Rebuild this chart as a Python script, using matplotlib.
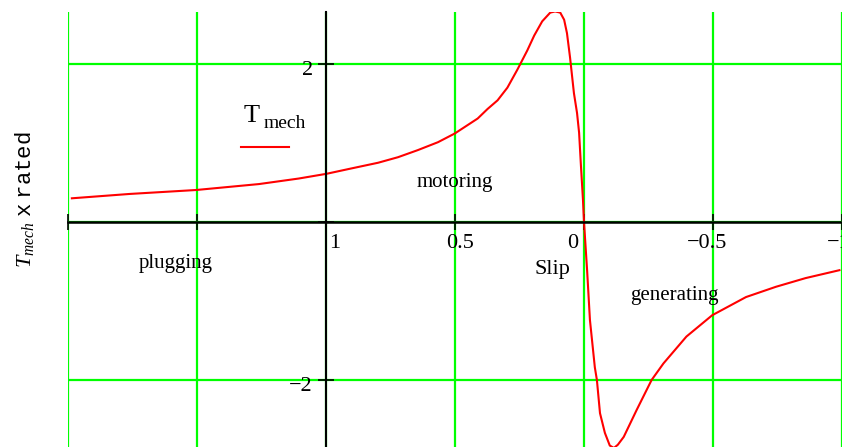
import matplotlib
matplotlib.use("Agg")
import matplotlib.pyplot as plt
from matplotlib.lines import Line2D

# torque (per unit of rated) against slip
slip = [1.985, 1.761, 1.503, 1.260, 1.106, 0.998, 0.913, 0.798, 0.721, 0.644,
        0.566, 0.501, 0.412, 0.374, 0.335, 0.297, 0.258, 0.220, 0.193, 0.162,
        0.131, 0.112, 0.092, 0.077, 0.066, 0.054, 0.039, 0.027, 0.019, 0.012,
        0.004, 0.0, -0.012, -0.023, -0.042, -0.050, -0.062, -0.081, -0.100,
        -0.116, -0.131, -0.154, -0.204, -0.262, -0.308, -0.397, -0.497,
        -0.628, -0.744, -0.859, -0.990]
torque = [0.30, 0.355, 0.405, 0.48, 0.55, 0.61, 0.67, 0.75, 0.82, 0.91,
          1.01, 1.12, 1.31, 1.43, 1.54, 1.70, 1.93, 2.17, 2.36, 2.54,
          2.65, 2.665, 2.65, 2.56, 2.39, 2.08, 1.63, 1.38, 1.13, 0.72,
          0.28, 0.0, -0.61, -1.24, -1.84, -2.0, -2.42, -2.67, -2.83,
          -2.86, -2.82, -2.72, -2.38, -2.0, -1.79, -1.45, -1.18,
          -0.95, -0.82, -0.71, -0.61]

x_ticks = [2, 1.5, 1, 0.5, 0, -0.5, -1]
x_labels = {1: "1", 0.5: "0.5", 0: "0", -0.5: "\u22120.5"}
x_label_dx = {1: 9, 0.5: 5, 0: -11, -0.5: -6}
y_ticks = [2, 0, -2]
y_labels = {2: "2", -2: "\u22122"}

regions = ["plugging", "motoring", "generating"]

plt.rcParams["mathtext.fontset"] = "custom"
plt.rcParams["mathtext.rm"] = "Liberation Mono"
plt.rcParams["mathtext.it"] = "Liberation Serif:italic"

W, H = 842, 447
serif = "Liberation Serif"


def px(x, y):
    # pixel position -> figure fraction
    return x / W, 1 - y / H


fig = plt.figure(figsize=(W / 100, H / 100), dpi=100)
ax = fig.add_axes([68 / W, 0, 1 - 68 / W, 1 - 12 / H])

ax.plot(slip, torque, color="#ff0000", lw=1.5, zorder=3)
ax.set_xlim(2.0, -0.972)
ax.set_ylim(-2.848, 2.658)

ax.set_xticks(x_ticks)
ax.set_yticks(y_ticks)
ax.set_xticklabels([])
ax.set_yticklabels([])
ax.grid(True, color="#00ff00", lw=1.6)

for side in ["top", "right"]:
    ax.spines[side].set_visible(False)
ax.spines["left"].set_position(("data", 1))
ax.spines["bottom"].set_position(("data", 0))
ax.spines["left"].set_linewidth(1.5)
ax.spines["bottom"].set_linewidth(1.8)
ax.spines["left"].set_zorder(4)
ax.spines["bottom"].set_zorder(4)
ax.tick_params(direction="inout", length=12, width=1.2, color="black")

# tick labels sit beside the axes through the middle
for v, s in x_labels.items():
    ax.annotate(s, (v, 0), xytext=(x_label_dx[v], -26), textcoords="offset pixels",
                ha="center", va="baseline", fontsize=16, family=serif,
                annotation_clip=False)
for v, s in y_labels.items():
    ax.annotate(s, (1, v), xytext=(-13, -11), textcoords="offset pixels",
                ha="right", va="baseline", fontsize=16, family=serif)
# the -1 label runs past the right edge, only its minus sign shows
fig.text(*px(827, 248), "\u22121", ha="left", va="baseline",
         fontsize=16, family=serif)

fig.text(*px(455, 187), regions[1], ha="center", va="baseline",
         fontsize=15, family=serif)
fig.text(*px(176, 268), regions[0], ha="center", va="baseline",
         fontsize=15, family=serif)
fig.text(*px(674, 300), regions[2], ha="center", va="baseline",
         fontsize=15, family=serif)
fig.text(*px(552, 274), "Slip", ha="center", va="baseline",
         fontsize=16, family=serif)

# legend key: T mech above a short red line
fig.text(*px(244, 122), "T", ha="left", va="baseline", fontsize=19, family=serif)
fig.text(*px(264, 128), "mech", ha="left", va="baseline", fontsize=14, family=serif)
fig.add_artist(Line2D([241 / W, 289 / W], [1 - 147 / H, 1 - 147 / H],
                      color="#ff0000", lw=1.5))

fig.text(*px(25, 200), r"$T_{mech}\ \mathrm{x\ rated}$", rotation=90,
         ha="center", va="center", fontsize=16)

fig.savefig("out.png", dpi=100)
